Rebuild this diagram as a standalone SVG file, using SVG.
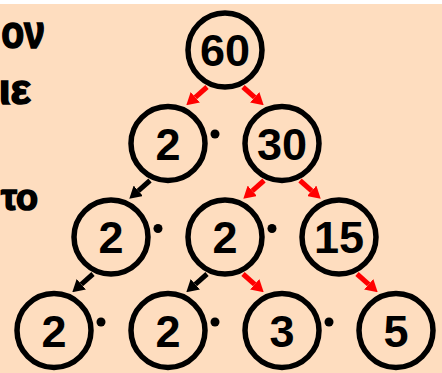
<svg xmlns="http://www.w3.org/2000/svg" width="442" height="373" viewBox="0 0 442 373">
<style>
.bg{fill:#FEDDBF}
.n circle{fill:none;stroke:#000;stroke-width:5.5}
.n text{font-family:"Liberation Sans",Arial,sans-serif;font-weight:bold;font-size:45px;text-anchor:middle;fill:#000}
.side{font-family:"Liberation Sans",Arial,sans-serif;font-weight:bold;fill:#000;stroke:#000;stroke-width:1.6;text-anchor:end}
.dot{fill:#000}
.red{stroke:#FF0000;stroke-width:5;fill:none;marker-end:url(#ar)}
.blk{stroke:#000;stroke-width:5;fill:none;marker-end:url(#ab)}
</style>
<defs>
<marker id="ar" viewBox="0 -7 12 14" refX="0" refY="0" markerWidth="12" markerHeight="14" markerUnits="userSpaceOnUse" orient="auto"><path d="M0,-7 L12,0 L0,7 z" fill="#FF0000"/></marker>
<marker id="ab" viewBox="0 -7 12 14" refX="0" refY="0" markerWidth="12" markerHeight="14" markerUnits="userSpaceOnUse" orient="auto"><path d="M0,-7 L12,0 L0,7 z" fill="#000"/></marker>
</defs>
<rect x="0" y="0" width="442" height="373" fill="#FFFFFF"/>
<rect class="bg" x="0" y="4" width="442" height="369"/>
<text class="side" transform="translate(45,48) scale(0.8,1)" font-size="47">ον</text>
<text class="side" transform="translate(31,104)" font-size="43">ιε</text>
<text class="side" transform="translate(38,210)" font-size="36">το</text>
<g id="connectors">
<path class="red" d="M207,87 L195.3,97.3"/>
<path class="red" d="M243,87 L254.7,97.3"/>
<path class="red" d="M264,180.5 L252.3,190.8"/>
<path class="red" d="M300,180.5 L311.7,190.8"/>
<path class="red" d="M243,274 L254.7,284.3"/>
<path class="red" d="M357,274 L368.7,284.3"/>
<path class="blk" d="M150,180.5 L138.3,190.8"/>
<path class="blk" d="M93,274 L81.3,284.3"/>
<path class="blk" d="M207,274 L195.3,284.3"/>
</g>
<g id="n60" class="n"><circle cx="225" cy="50" r="37"/><text x="225" y="66">60</text></g>
<g id="n2a" class="n"><circle cx="168" cy="143.5" r="37"/><text x="168" y="159.5">2</text></g>
<g id="n30" class="n"><circle cx="282" cy="143.5" r="37"/><text x="282" y="159.5">30</text></g>
<g id="n2b" class="n"><circle cx="111" cy="237" r="37"/><text x="111" y="253">2</text></g>
<g id="n2c" class="n"><circle cx="225" cy="237" r="37"/><text x="225" y="253">2</text></g>
<g id="n15" class="n"><circle cx="339" cy="237" r="37"/><text x="339" y="253">15</text></g>
<g id="n2d" class="n"><circle cx="54" cy="330.5" r="37"/><text x="54" y="346.5">2</text></g>
<g id="n2e" class="n"><circle cx="168" cy="330.5" r="37"/><text x="168" y="346.5">2</text></g>
<g id="n3" class="n"><circle cx="282" cy="330.5" r="37"/><text x="282" y="346.5">3</text></g>
<g id="n5" class="n"><circle cx="396" cy="330.5" r="37"/><text x="396" y="346.5">5</text></g>
<g id="dots">
<circle class="dot" cx="215" cy="134" r="4.5"/>
<circle class="dot" cx="158" cy="228.5" r="4.5"/>
<circle class="dot" cx="272" cy="228.5" r="4.5"/>
<circle class="dot" cx="101" cy="322" r="4.5"/>
<circle class="dot" cx="215" cy="322" r="4.5"/>
<circle class="dot" cx="329" cy="322" r="4.5"/>
</g>
</svg>
